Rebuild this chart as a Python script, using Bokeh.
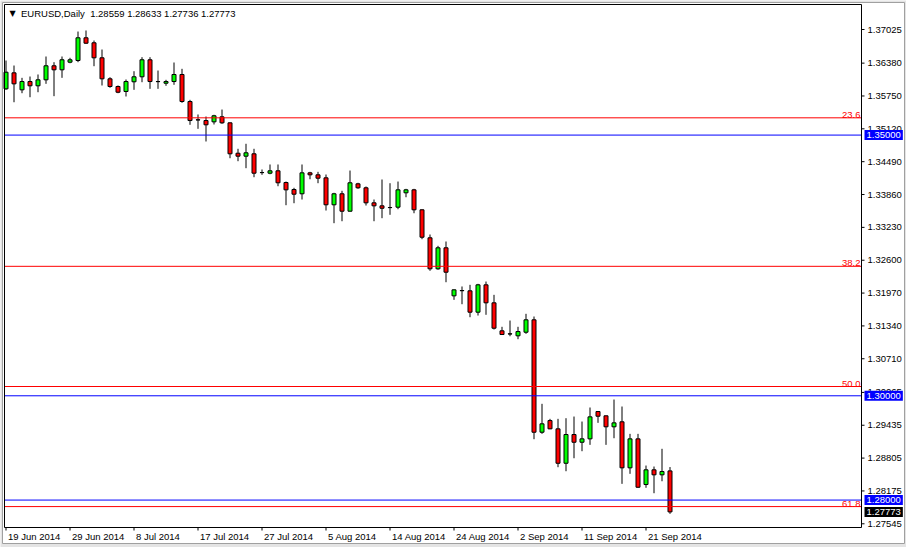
from bokeh.plotting import figure
from bokeh.models import Range1d, Label, ColumnDataSource
from bokeh.core.properties import value
from bokeh.embed import file_html
from bokeh.resources import INLINE

symbol = "EURUSD,Daily"
opens = [1.35887, 1.36194, 1.35868, 1.36027, 1.35945, 1.36060, 1.36329, 1.36252, 1.36398, 1.36430,
         1.36866, 1.36770, 1.36482, 1.36079, 1.35932, 1.35836, 1.36022, 1.36118, 1.36444, 1.36027,
         1.35995, 1.36027, 1.36162, 1.35644, 1.35293, 1.35279, 1.35254, 1.35350, 1.35235, 1.34652,
         1.34595, 1.34641, 1.34282, 1.34269, 1.34315, 1.34090, 1.33956, 1.33874, 1.34276, 1.34238,
         1.34180, 1.33663, 1.33874, 1.33540, 1.34065, 1.33989, 1.33701, 1.33643, 1.33611, 1.33617,
         1.33893, 1.33950, 1.33567, 1.33030, 1.32435, 1.32838, 1.31917, 1.32019, 1.32013, 1.31603,
         1.32128, 1.31783, 1.31246, 1.31188, 1.31150, 1.31219, 1.31457, 1.29301, 1.29525, 1.29366,
         1.28706, 1.29257, 1.29109, 1.29174, 1.29698, 1.29616, 1.29405, 1.29501, 1.28618, 1.29174,
         1.28298, 1.28580, 1.28484, 1.28559]
highs = [1.36430, 1.36334, 1.36098, 1.36123, 1.36162, 1.36507, 1.36398, 1.36507, 1.36482, 1.36986,
         1.37006, 1.36814, 1.36641, 1.36110, 1.35951, 1.36066, 1.36225, 1.36494, 1.36494, 1.36238,
         1.36060, 1.36392, 1.36271, 1.35676, 1.35395, 1.35356, 1.35389, 1.35490, 1.35241, 1.34737,
         1.34833, 1.34737, 1.34340, 1.34436, 1.34436, 1.34109, 1.33989, 1.34436, 1.34295, 1.34295,
         1.34244, 1.33893, 1.33931, 1.34320, 1.34085, 1.34014, 1.33764, 1.34148, 1.34077, 1.34109,
         1.33969, 1.33969, 1.33575, 1.33093, 1.32876, 1.32959, 1.32040, 1.32096, 1.32128, 1.32147,
         1.32191, 1.31936, 1.31323, 1.31443, 1.31323, 1.31572, 1.31520, 1.29846, 1.29558, 1.29558,
         1.29570, 1.29602, 1.29506, 1.29775, 1.29705, 1.29620, 1.29928, 1.29794, 1.29270, 1.29270,
         1.28662, 1.28643, 1.28983, 1.28633]
lows = [1.35868, 1.35630, 1.35803, 1.35726, 1.35822, 1.35983, 1.35746, 1.36098, 1.36378, 1.36398,
        1.36751, 1.36321, 1.35951, 1.35907, 1.35803, 1.35740, 1.35868, 1.36014, 1.35887, 1.35887,
        1.35945, 1.35964, 1.35619, 1.35197, 1.35120, 1.34877, 1.35203, 1.35216, 1.34556, 1.34499,
        1.34365, 1.34192, 1.34238, 1.34249, 1.34019, 1.33655, 1.33693, 1.33764, 1.34153, 1.34077,
        1.33553, 1.33310, 1.33348, 1.33534, 1.33969, 1.33649, 1.33348, 1.33406, 1.33471, 1.33578,
        1.33808, 1.33501, 1.33003, 1.32397, 1.32416, 1.32178, 1.31840, 1.31756, 1.31507, 1.31539,
        1.31553, 1.31271, 1.31169, 1.31142, 1.31085, 1.31188, 1.29167, 1.29270, 1.29360, 1.28630,
        1.28553, 1.28802, 1.28937, 1.29059, 1.29481, 1.29059, 1.29186, 1.28311, 1.28503, 1.28235,
        1.28235, 1.28131, 1.28361, 1.27736]
closes = [1.36206, 1.35983, 1.36027, 1.35945, 1.36060, 1.36329, 1.36252, 1.36444, 1.36444, 1.36866,
          1.36762, 1.36482, 1.36079, 1.35932, 1.35822, 1.36027, 1.36118, 1.36444, 1.36027, 1.36025,
          1.36027, 1.36162, 1.35644, 1.35279, 1.35290, 1.35197, 1.35370, 1.35235, 1.34641, 1.34595,
          1.34660, 1.34269, 1.34280, 1.34315, 1.34085, 1.33950, 1.33866, 1.34276, 1.34238, 1.34173,
          1.33663, 1.33874, 1.33540, 1.34085, 1.33989, 1.33701, 1.33643, 1.33597, 1.33609, 1.33950,
          1.33950, 1.33567, 1.33041, 1.32435, 1.32838, 1.32370, 1.32032, 1.32015, 1.31603, 1.32128,
          1.31783, 1.31296, 1.31175, 1.31185, 1.31232, 1.31457, 1.29301, 1.29462, 1.29366, 1.28706,
          1.29257, 1.29109, 1.29174, 1.29596, 1.29608, 1.29405, 1.29481, 1.28618, 1.29174, 1.28246,
          1.28580, 1.28484, 1.28547, 1.27773]

date_tick_index = [0, 8, 16, 24, 32, 40, 48, 56, 64, 72, 80]
date_tick_labels = ["19 Jun 2014", "29 Jun 2014", "8 Jul 2014", "17 Jul 2014", "27 Jul 2014",
                    "5 Aug 2014", "14 Aug 2014", "24 Aug 2014", "2 Sep 2014", "11 Sep 2014",
                    "21 Sep 2014"]
price_ticks = [1.37025, 1.36380, 1.35750, 1.35120, 1.34490, 1.33860, 1.33230, 1.32600,
               1.31970, 1.31340, 1.30710, 1.30065, 1.29435, 1.28805, 1.28175, 1.27545]
fib_levels = [1.35331, 1.32483, 1.30178, 1.27875]
fib_names = ["23.6", "38.2", "50.0", "61.8"]
round_levels = [1.35000, 1.30000, 1.28000]

# ---- layout / scale (pixels of the 906x547 canvas) ----
W, H = 906, 547
BAR_PX = 8.0          # pixels per bar
BAR0_PX = 5.5         # canvas x of bar 0
PRICE_REF, PRICE_REF_PX = 1.37025, 29.0
PX_PER_PRICE = 5214.0
AREA_L, AREA_R, AREA_T, AREA_B = 4, 861, 4, 527   # chart area border (canvas px)


def xdata(px):
    return (px - BAR0_PX) / BAR_PX


def ydata(py):
    return PRICE_REF - (py - PRICE_REF_PX) / PX_PER_PRICE


X_L, X_R = xdata(AREA_L), xdata(AREA_R)
Y_T, Y_B = ydata(AREA_T), ydata(AREA_B)

FONT = "Liberation Sans"
FS = "9.5px"
RED = "#FF0000"
BLUE = "#0000FF"
GREEN = "#00FF00"

n = len(opens)
xs = list(range(n))
src = ColumnDataSource(dict(
    x=xs, o=opens, h=highs, l=lows, c=closes,
    top=[max(a, b) for a, b in zip(opens, closes)],
    bot=[min(a, b) for a, b in zip(opens, closes)],
    col=[GREEN if c > o else RED for o, c in zip(opens, closes)],
))

p = figure(width=W, height=H, x_range=Range1d(xdata(0), xdata(W)),
           y_range=Range1d(ydata(H), ydata(0)),
           x_axis_location=None, y_axis_location=None,
           toolbar_location=None, output_backend="svg",
           min_border_left=0, min_border_top=0, min_border_right=0, min_border_bottom=0)
p.background_fill_color = "#E4E4E4"
p.border_fill_color = "#E4E4E4"
p.outline_line_color = None
p.xgrid.visible = False
p.ygrid.visible = False

# window face (white) with thin grey edge
p.quad(left=[xdata(2)], right=[xdata(904)], top=[ydata(2)], bottom=[ydata(543)],
       fill_color="white", line_color="#A0A0A0", line_width=1)

# candles
p.segment(x0="x", y0="l", x1="x", y1="h", source=src, line_color="black", line_width=1)
p.vbar(x="x", width=0.5, top="top", bottom="bot", source=src,
       fill_color="col", line_color="black", line_width=1)

# horizontal levels (inside the chart area only)
p.segment(x0=[X_L] * len(fib_levels), x1=[X_R] * len(fib_levels), y0=fib_levels, y1=fib_levels,
          line_color=RED, line_width=1)
p.segment(x0=[X_L] * len(round_levels), x1=[X_R] * len(round_levels), y0=round_levels,
          y1=round_levels, line_color=BLUE, line_width=1)

# chart area border
p.quad(left=[X_L], right=[X_R], top=[Y_T], bottom=[Y_B], fill_color=None,
       line_color="black", line_width=1)

# right price scale
tick_len_x = 3 / BAR_PX
p.segment(x0=[X_R] * len(price_ticks), x1=[X_R + tick_len_x] * len(price_ticks),
          y0=price_ticks, y1=price_ticks, line_color="black", line_width=1)
p.text(x=[X_R] * len(price_ticks), y=price_ticks, text=[f"{t:.5f}" for t in price_ticks],
       x_offset=6, text_align="left", text_baseline="middle", text_color="black",
       text_font=value(FONT), text_font_size=value(FS))

# bottom date scale
tick_len_y = 3 / PX_PER_PRICE
p.segment(x0=date_tick_index, x1=date_tick_index, y0=[Y_B] * len(date_tick_index),
          y1=[Y_B - tick_len_y] * len(date_tick_index), line_color="black", line_width=1)
p.text(x=date_tick_index, y=[Y_B] * len(date_tick_index), text=date_tick_labels,
       x_offset=2, y_offset=3, text_align="left", text_baseline="top", text_color="black",
       text_font=value(FONT), text_font_size=value(FS))

# fibonacci level names
for lv, nm in zip(fib_levels, fib_names):
    p.add_layout(Label(x=X_R, y=lv, text=nm, x_offset=-1, y_offset=0, text_align="right",
                       text_baseline="bottom", text_color=RED,
                       text_font=FONT, text_font_size=FS))

# highlighted prices on the scale
for lv in round_levels:
    p.add_layout(Label(x=X_R, y=lv, text=f"{lv:.5f}", x_offset=3,
                       text_align="left", text_baseline="middle", text_color="white",
                       background_fill_color=BLUE, padding=2, text_line_height=1.0,
                       text_font=FONT, text_font_size=FS))
p.add_layout(Label(x=X_R, y=closes[-1], text=f"{closes[-1]:.5f}", x_offset=3,
                   text_align="left", text_baseline="middle", text_color="white",
                   background_fill_color="black", padding=2, text_line_height=1.0,
                   text_font=FONT, text_font_size=FS))

# header
header = f"{symbol}\u00a0\u00a0{opens[-1]:.5f} {highs[-1]:.5f} {lows[-1]:.5f} {closes[-1]:.5f}"
p.add_layout(Label(x=20.5, x_units="screen", y=H - 12.7, y_units="screen", text=header,
                   text_align="left", text_baseline="middle", text_color="black",
                   text_font=FONT, text_font_size=FS))
p.add_layout(Label(x=12, x_units="screen", y=H - 13, y_units="screen", text="\u25bc",
                   text_align="center", text_baseline="middle", text_color="black",
                   text_font="DejaVu Sans", text_font_size="8px"))

open("out.html", "w").write(file_html(p, INLINE))
